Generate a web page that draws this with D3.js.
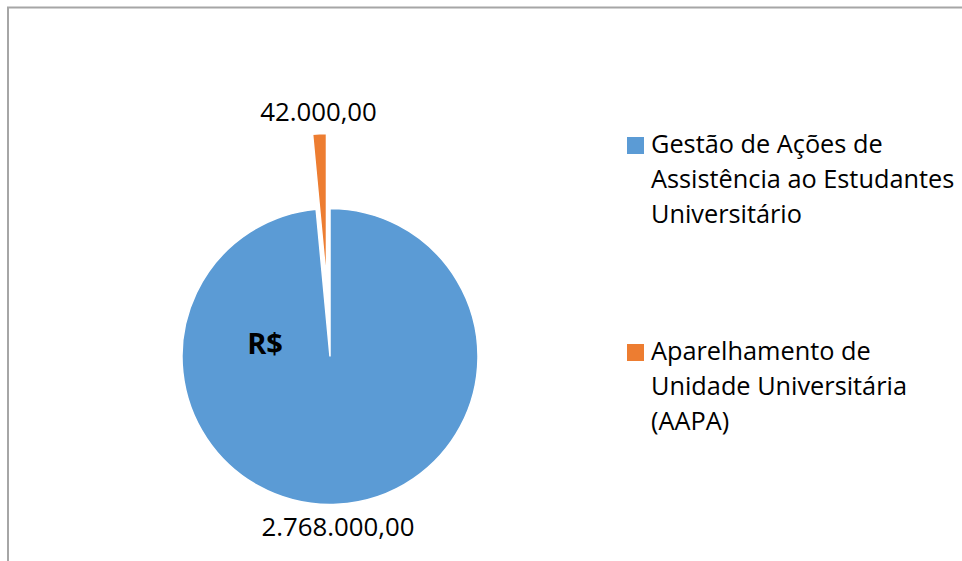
<!DOCTYPE html>
<html>
<head>
<meta charset="utf-8">
<script src="https://cdn.jsdelivr.net/npm/d3@7"></script>
<style>
  body { margin: 0; background: #fff; }
  text { font-family: "Open Sans", sans-serif; fill: #000; }
</style>
</head>
<body>
<svg id="chart" width="962" height="561"></svg>
<script>
// data
var categories = ["Gestão de Ações de Assistência ao Estudantes Universitário",
                  "Aparelhamento de Unidade Universitária (AAPA)"];
var legendLines = [["Gestão de Ações de", "Assistência ao Estudantes", "Universitário"],
                   ["Aparelhamento de", "Unidade Universitária", "(AAPA)"]];
var values = [2768000, 42000];
var valueLabels = ["2.768.000,00", "42.000,00"];
var colors = ["#5B9BD5", "#ED7D31"];
var seriesName = "R$";

var svg = d3.select("#chart");

// chart frame (only top and left visible)
svg.append("path")
  .attr("d", "M8,561 L8,7.5 L962,7.5")
  .attr("fill", "none")
  .attr("stroke", "#a6a6a6")
  .attr("stroke-width", 2);

var cx = 330, cy = 356.5, radius = 148;
var explode = [0, 75]; // pixels pulled out along the bisector

var pie = d3.pie().sort(null).value(function(d) { return d; });
var arcs = pie(values);
var arc = d3.arc().innerRadius(0).outerRadius(radius);

var g = svg.append("g").attr("transform", "translate(" + cx + "," + cy + ")");

function offsetOf(d, i, extra) {
  var mid = (d.startAngle + d.endAngle) / 2;
  var dist = explode[i] + (extra || 0);
  return [Math.sin(mid) * dist, -Math.cos(mid) * dist];
}

g.selectAll("path.slice")
  .data(arcs)
  .enter().append("path")
  .attr("class", "slice")
  .attr("d", arc)
  .attr("fill", function(d, i) { return colors[i]; })
  .attr("stroke", "#fff")
  .attr("stroke-width", 1.5)
  .attr("transform", function(d, i) {
    var o = offsetOf(d, i);
    return "translate(" + o[0] + "," + o[1] + ")";
  });

// value labels outside the slices
g.selectAll("text.val")
  .data(arcs)
  .enter().append("text")
  .attr("class", "val")
  .attr("text-anchor", "middle")
  .attr("font-size", 25.8)
  .attr("x", function(d, i) { return offsetOf(d, i, radius + 22)[0]; })
  .attr("y", function(d, i) { return offsetOf(d, i, radius + 22)[1]; })
  .attr("dy", "0.36em")
  .text(function(d, i) { return valueLabels[i]; });

// series name inside the pie
g.append("text")
  .attr("x", -65)
  .attr("y", -3)
  .attr("text-anchor", "middle")
  .attr("font-size", 29)
  .attr("font-weight", "bold")
  .text(seriesName);

// legend
var legend = svg.selectAll("g.legend")
  .data(categories)
  .enter().append("g")
  .attr("class", "legend")
  .attr("transform", function(d, i) { return "translate(627," + (137 + i * 207) + ")"; });

legend.append("rect")
  .attr("width", 17)
  .attr("height", 17)
  .attr("fill", function(d, i) { return colors[i]; });

legend.append("text")
  .attr("x", 24)
  .attr("y", 16)
  .attr("font-size", 25.3)
  .selectAll("tspan")
  .data(function(d, i) { return legendLines[i]; })
  .enter().append("tspan")
  .attr("x", 24)
  .attr("dy", function(d, j) { return j === 0 ? 0 : 35; })
  .text(function(d) { return d; });
</script>
</body>
</html>
